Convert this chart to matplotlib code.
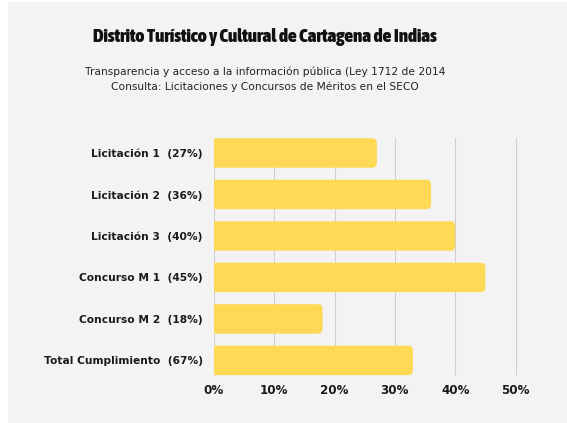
import matplotlib.pyplot as plt
from matplotlib import font_manager as fm
from matplotlib.patches import FancyBboxPatch, Rectangle

# datos
categorias = ["Licitación 1  (27%)", "Licitación 2  (36%)", "Licitación 3  (40%)",
              "Concurso M 1  (45%)", "Concurso M 2  (18%)", "Total Cumplimiento  (67%)"]
valores = [27, 36, 40, 45, 18, 33]
ticks_x = [0, 10, 20, 30, 40, 50]
etiquetas_x = ["0%", "10%", "20%", "30%", "40%", "50%"]

titulo = "Distrito Turístico y Cultural de Cartagena de Indias"
subtitulo = ("Transparencia y acceso a la información pública (Ley 1712 de 2014\n"
             "Consulta: Licitaciones y Concursos de Méritos en el SECO")

amarillo = "#fdd956"
fondo = "#f3f3f3"


def ancho_fuente(f):
    s = f.stretch
    if isinstance(s, str):
        s = fm.stretch_dict.get(s, 500)
    return s


def peso_fuente(f):
    w = f.weight
    if isinstance(w, str):
        w = fm.weight_dict.get(w, 400)
    return w


# fuente estrecha y gruesa para el titulo (la mas estrecha disponible)
candidatas = [f for f in fm.fontManager.ttflist
              if peso_fuente(f) >= 700 and f.style == "normal"]
candidatas.sort(key=lambda f: (ancho_fuente(f), -peso_fuente(f)))
prop_titulo = fm.FontProperties(fname=candidatas[0].fname)

fig = plt.figure(figsize=(5.67, 4.23), dpi=100)
fig.patch.set_facecolor("white")
fig.patches.append(Rectangle((8 / 567, 0), 1, (423 - 2) / 423, transform=fig.transFigure,
                             facecolor=fondo, edgecolor="none", zorder=-10))

ax = fig.add_axes([0.3774, 0.1087, 0.585, 0.5885])
ax.set_facecolor("none")
ax.set_xlim(0, 55)
ax.set_ylim(5.4, -0.6)

# lineas de rejilla
ax.vlines(ticks_x, -0.36, 5.36, color="#cfcfcf", linewidth=0.8, zorder=1)

# barras con esquinas redondeadas
alto = 0.71
aspecto = (331.7 / 55) / 41.5
for i, v in enumerate(valores):
    barra = FancyBboxPatch((-2, i - alto / 2), v + 2, alto,
                           boxstyle="round,pad=0,rounding_size=0.8",
                           mutation_aspect=aspecto,
                           facecolor=amarillo, edgecolor="none", zorder=2)
    ax.add_patch(barra)

ax.set_yticks(range(len(categorias)))
ax.set_yticklabels(categorias, fontsize=7.7, fontweight="bold", color="#1a1a1a",
                   family="DejaVu Sans")
ax.set_xticks(ticks_x)
ax.set_xticklabels(etiquetas_x, fontsize=8.6, fontweight="bold", color="#1a1a1a",
                   family="DejaVu Sans")
ax.tick_params(axis="y", length=0, pad=8)
ax.tick_params(axis="x", length=0, pad=5)
for s in ax.spines.values():
    s.set_visible(False)

t = fig.text(265 / 567, 1 - 37 / 423, titulo, ha="center", va="center",
             fontproperties=prop_titulo, fontsize=15, color="#111111")
sub = fig.text(265 / 567, 1 - 79 / 423, subtitulo, ha="center", va="center",
               fontsize=8.3, family="DejaVu Sans", color="#222222", linespacing=1.5)
# ajustar tamaños al ancho del original (titulo ~344 px, subtitulo ~357 px)
fig.canvas.draw()
t.set_fontsize(15 * 344 / t.get_window_extent().width)
sub.set_fontsize(8.3 * 357 / sub.get_window_extent().width)

fig.savefig("out.png", dpi=100)
